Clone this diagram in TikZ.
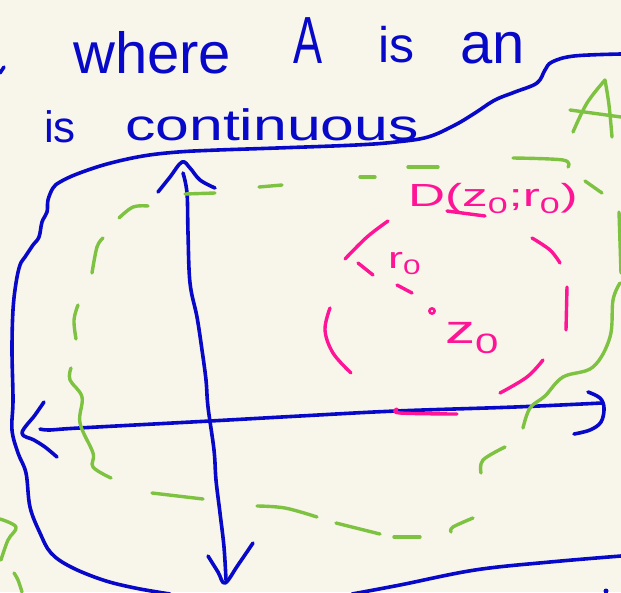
\documentclass[tikz,border=0pt]{standalone}
\usepackage{fontspec}
\setmainfont{Liberation Sans}
\definecolor{bg}{RGB}{248,246,235}
\definecolor{inkblue}{RGB}{8,8,200}
\definecolor{inkgreen}{RGB}{126,194,66}
\definecolor{inkpink}{RGB}{255,20,150}
\begin{document}
\begin{tikzpicture}[x=1pt,y=-1pt, line cap=round, line join=round,
  bluestroke/.style={draw=inkblue, line width=3.6pt},
  greenstroke/.style={draw=inkgreen, line width=3.4pt},
  pinkstroke/.style={draw=inkpink, line width=3.4pt},
  sm/.style={smooth, tension=0.6},
  bluetext/.style={text=inkblue, anchor=base west, inner sep=0pt},
  pinktext/.style={text=inkpink, anchor=base west, inner sep=0pt}]
\fill[bg] (0,0) rectangle (621,592);
\useasboundingbox (0,0) rectangle (621,592);

% ---- handwritten text (blue) ----
\node[bluetext, font=\fontsize{58}{60}\selectfont] (w1) at (73,73) {where};
\node[bluetext, font=\fontsize{58}{60}\selectfont] (w2) at (293,63) {\scalebox{0.75}[1.15]{A}};
\node[bluetext, font=\fontsize{50}{52}\selectfont] (w3) at (378,62) {is};
\node[bluetext, font=\fontsize{58}{60}\selectfont] (w4) at (460,63) {an};
\node[bluetext, font=\fontsize{44}{46}\selectfont] (w5) at (44,142) {is};
\node[bluetext, font=\fontsize{44}{46}\selectfont] (w6) at (125,140) {\scalebox{1.38}[1]{continuous}};

% ---- blue set boundary ----
\draw[bluestroke] (0,73) -- (4,67);
\draw[bluestroke] plot[sm] coordinates {(621,54) (574,56) (552,62) (545,70) (537,83) (515,92) (495,100) (475,113) (455,125) (428,137) (396,142) (356,145) (277,148) (218,150) (178,152) (143,156) (107,164) (77,174) (60,182) (53,188) (48,200) (47,212) (42,222) (39,237) (33,245) (25,257) (20,265) (16,283) (13,310) (12,350) (13,400) (12,430) (18,453) (26,473) (30,507) (40,533) (51,553) (71,567) (103,580) (135,588) (170,594)};
\draw[bluestroke] plot[sm] coordinates {(352,594) (400,585) (475,570) (550,562) (621,556)};
\fill[inkblue] (606,591) circle (2.5);

% ---- axes ----
\draw[bluestroke] plot[sm] coordinates {(183,173) (187,193) (188,233) (190,283) (197,317) (202,350) (206,380) (208,407) (214,450) (216,480) (220,513) (224,547) (226,580)};
\draw[bluestroke] plot[sm] coordinates {(158,192) (170,177) (182,162) (190,168) (200,180) (215,188)};
\draw[bluestroke] plot[sm] coordinates {(208,556) (218,572) (225,583) (238,565) (253,543)};
\draw[bluestroke] plot[sm] coordinates {(40,429) (50,430) (79,428) (210,421) (300,416) (396,411) (515,407) (602,403)};
\draw[bluestroke] plot[sm] coordinates {(588,392) (600,398) (604,408) (601,422) (590,430) (574,434)};
\draw[bluestroke] plot[sm] coordinates {(44,402) (35,415) (22,433) (34,440) (45,447) (57,457)};

% ---- green A ----
\draw[greenstroke] plot[sm] coordinates {(573,132) (587,103) (605,80)};
\draw[greenstroke] plot[sm] coordinates {(605,80) (609,105) (612,137)};
\draw[greenstroke] (570,110) -- (621,117);

% ---- green dashed region ----
\draw[greenstroke] (185,194) -- (215,193);
\draw[greenstroke] (259,187) -- (282,185);
\draw[greenstroke] (360,177) -- (375,177);
\draw[greenstroke] (408,167) -- (438,167);
\draw[greenstroke] plot[sm] coordinates {(513,158) (563,160) (568,167)};
\draw[greenstroke] (585,181) -- (602,193);
\draw[greenstroke] (619,212) -- (621,273);
\draw[greenstroke] plot[sm] coordinates {(148,206) (133,207) (119,218)};
\draw[greenstroke] plot[sm] coordinates {(103,238) (97,247) (92,273)};
\draw[greenstroke] plot[sm] coordinates {(78,305) (74,320) (76,339)};
\draw[greenstroke] plot[sm] coordinates {(71,368) (70,380) (82,397) (80,423) (93,453) (93,467) (111,478)};
\draw[greenstroke] (152,493) -- (203,499);
\draw[greenstroke] plot[sm] coordinates {(257,506) (285,508) (317,517)};
\draw[greenstroke] (336,523) -- (380,534);
\draw[greenstroke] (394,537) -- (420,537);
\draw[greenstroke] plot[sm] coordinates {(451,532) (453,527) (473,518)};
\draw[greenstroke] plot[sm] coordinates {(481,473) (483,460) (505,447)};
\draw[greenstroke] plot[sm] coordinates {(620,283) (613,300) (610,337) (593,367) (563,377) (545,396) (530,408) (523,428)};
\draw[greenstroke] plot[sm] coordinates {(0,519) (16,527) (8,540) (1,560)};
\draw[greenstroke] plot[sm] coordinates {(14,573) (18,580) (22,592)};

% ---- pink disc ----
\draw[pinkstroke] plot[sm] coordinates {(388,221) (367,237) (345,259)};
\draw[pinkstroke] (358,263) -- (373,275);
\draw[pinkstroke] (397,285) -- (412,293);
\draw[pinkstroke] plot[sm] coordinates {(330,308) (325,330) (333,353) (351,373)};
\draw[pinkstroke] plot[sm] coordinates {(500,393) (527,377) (543,360)};
\draw[pinkstroke] (567,287) -- (566,330);
\draw[pinkstroke] plot[sm] coordinates {(532,238) (550,250) (560,263)};
\draw[pinkstroke] plot[sm] coordinates {(397,409) (400,413) (457,414)};
\draw[pinkstroke] (447,211) -- (485,216);
\draw[draw=inkpink, line width=2.6pt] (432,311) circle (2.6);

\node[pinktext, font=\fontsize{32}{34}\selectfont] (dlab) at (408,206) {\scalebox{1.6}[1]{D(z\textsubscript{0};r\textsubscript{0})}};
\node[pinktext, font=\fontsize{30}{32}\selectfont] (rlab) at (388,268) {\scalebox{1.5}[1]{r\textsubscript{0}}};
\node[pinktext, font=\fontsize{40}{42}\selectfont] (zlab) at (445,343) {\scalebox{1.5}[1]{z\textsubscript{0}}};
\end{tikzpicture}
\end{document}
